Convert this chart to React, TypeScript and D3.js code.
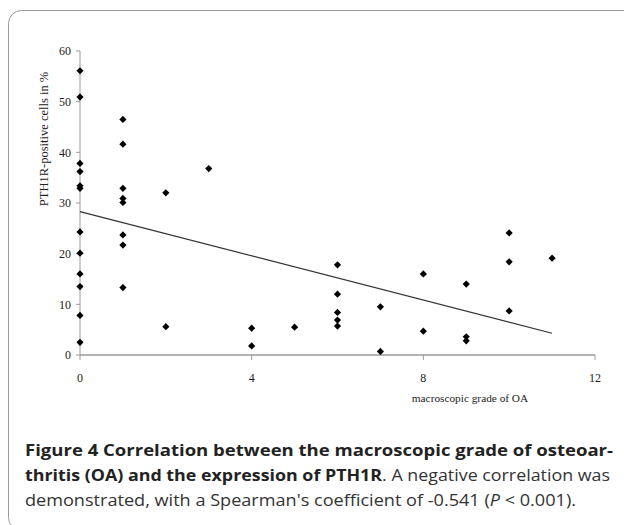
import React from "react";
import * as d3 from "d3";

const gradeX: number[] = [
  0, 0, 0, 0, 0, 0, 0, 0, 0, 0, 0, 0,
  1, 1, 1, 1, 1, 1, 1, 1,
  2, 2,
  3,
  4, 4,
  5,
  6, 6, 6, 6, 6,
  7, 7,
  8, 8,
  9, 9, 9,
  10, 10, 10,
  11,
];
const pth1rY: number[] = [
  56.1, 50.9, 37.8, 36.2, 33.4, 32.9, 24.3, 20.1, 16.0, 13.5, 7.8, 2.5,
  46.5, 41.6, 32.9, 30.9, 30.1, 23.7, 21.7, 13.3,
  32.0, 5.6,
  36.8,
  5.3, 1.8,
  5.5,
  17.8, 12.0, 8.4, 6.9, 5.7,
  9.5, 0.7,
  16.0, 4.7,
  14.0, 3.6, 2.8,
  24.1, 18.4, 8.7,
  19.1,
];
const trendX: number[] = [0, 11];
const trendY: number[] = [28.3, 4.3];
const xTicks: number[] = [0, 4, 8, 12];
const yTicks: number[] = [0, 10, 20, 30, 40, 50, 60];

export default function App() {
  const x = d3.scaleLinear().domain([0, 12]).range([80, 595]);
  const y = d3.scaleLinear().domain([0, 60]).range([355, 51]);
  const diamond = d3.symbol(d3.symbolSquare, 26)()!;
  const line = d3
    .line<number>()
    .x((_, i) => x(trendX[i]))
    .y((d) => y(d));
  const axisColor = "#9a9a9a";
  const serif = "'Liberation Serif', 'Times New Roman', serif";
  const sans = "'Open Sans', 'Noto Sans', sans-serif";
  return (
    <svg
      width={624}
      height={525}
      style={{ position: "absolute", left: 0, top: 0, background: "#fff" }}
    >
      <rect x={8.5} y={10.5} width={700} height={520} rx={13} fill="#fff" stroke="#9a9a9a" strokeWidth={1} />
      {/* y axis */}
      <line x1={x(0)} x2={x(0)} y1={y(0)} y2={y(60)} stroke={axisColor} strokeWidth={1} />
      {yTicks.map((t) => (
        <g key={"yt" + t}>
          <line x1={x(0) - 4} x2={x(0)} y1={y(t)} y2={y(t)} stroke={axisColor} />
          <text
            x={x(0) - 9}
            y={y(t)}
            dy="0.35em"
            textAnchor="end"
            fontFamily={serif}
            fontSize={12}
            fill="#222"
          >
            {t}
          </text>
        </g>
      ))}
      {/* x axis */}
      <line x1={x(0)} x2={x(12)} y1={y(0)} y2={y(0)} stroke={axisColor} strokeWidth={1.5} />
      {xTicks.map((t) => (
        <g key={"xt" + t}>
          <line x1={x(t)} x2={x(t)} y1={y(0)} y2={y(0) + 5} stroke={axisColor} />
          <text
            x={x(t)}
            y={y(0) + 27}
            textAnchor="middle"
            fontFamily={serif}
            fontSize={12}
            fill="#222"
          >
            {t}
          </text>
        </g>
      ))}
      <text
        x={470}
        y={402}
        textAnchor="middle"
        fontFamily={serif}
        fontSize={11.3}
        fill="#222"
      >
        macroscopic grade of OA
      </text>
      <text
        transform="translate(48,139) rotate(-90)"
        textAnchor="middle"
        fontFamily={serif}
        fontSize={12.5}
        fill="#222"
      >
        PTH1R-positive cells in %
      </text>
      {/* trend line */}
      <path d={line(trendY) || ""} fill="none" stroke="#333" strokeWidth={1.2} />
      {/* points */}
      {pth1rY.map((v, i) => (
        <path
          key={"p" + i}
          d={diamond}
          transform={`translate(${x(gradeX[i])},${y(v)}) rotate(45)`}
          fill="#000"
        />
      ))}
      {/* caption */}
      <text x={25} y={456} fontFamily={sans} fontSize={15.5} fontWeight={700} fill="#222" textLength={588} lengthAdjust="spacingAndGlyphs">
        Figure 4 Correlation between the macroscopic grade of osteoar-
      </text>
      <text x={25} y={481} fontFamily={sans} fontSize={15.5} fill="#333" textLength={585} lengthAdjust="spacingAndGlyphs">
        <tspan fontWeight={700} fill="#222">thritis (OA) and the expression of PTH1R</tspan>
        <tspan>. A negative correlation was</tspan>
      </text>
      <text x={25} y={506} fontFamily={sans} fontSize={15.5} fill="#333" textLength={551} lengthAdjust="spacingAndGlyphs">
        <tspan>demonstrated, with a Spearman's coefficient of -0.541 (</tspan>
        <tspan fontStyle="italic">P</tspan>
        <tspan> &lt; 0.001).</tspan>
      </text>
    </svg>
  );
}
